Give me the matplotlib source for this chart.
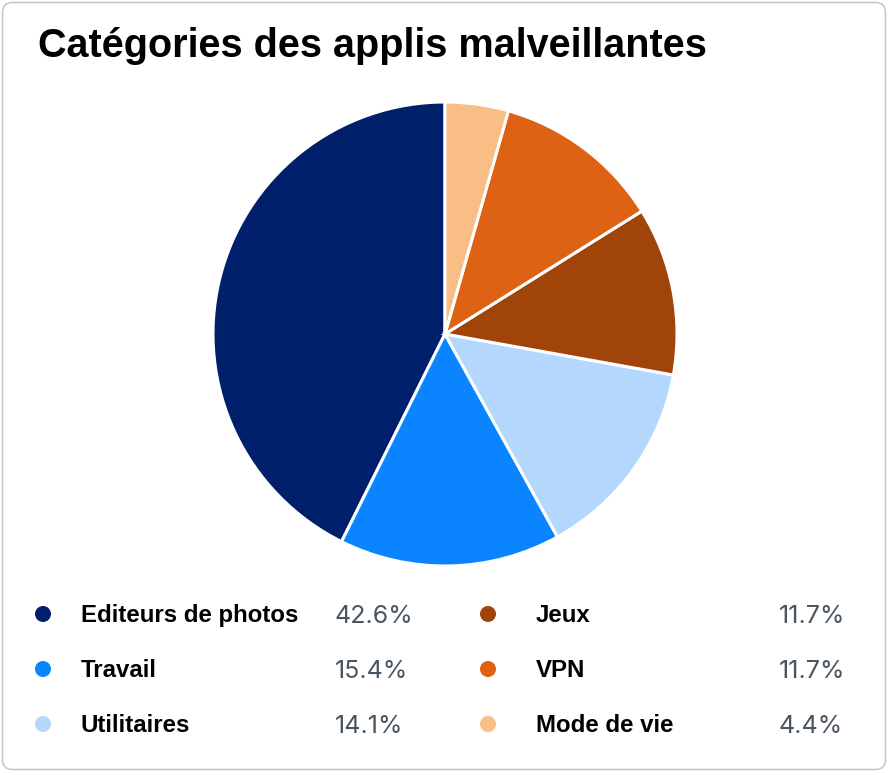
import matplotlib.pyplot as plt
from matplotlib.patches import FancyBboxPatch, Circle

# Datos del grafico
categorias = ["Editeurs de photos", "Travail", "Utilitaires", "Jeux", "VPN", "Mode de vie"]
porcentajes = [42.6, 15.4, 14.1, 11.7, 11.7, 4.4]
colores = ["#00206b", "#0a84ff", "#b3d7fd", "#a0440a", "#de6214", "#f8be86"]
titulo = "Catégories des applis malveillantes"

W, H = 890, 775
fig = plt.figure(figsize=(W / 100, H / 100), dpi=100)

# Capa en pixeles para el marco, el titulo y la leyenda
bg = fig.add_axes([0, 0, 1, 1])
bg.set_xlim(0, W)
bg.set_ylim(H, 0)
bg.axis("off")
bg.add_patch(FancyBboxPatch((2.5, 2.5), 883, 767, boxstyle="round,pad=0,rounding_size=10",
                            facecolor="white", edgecolor="#c8c8c8", linewidth=1.2))

bg.text(38, 57, titulo, fontsize=28.5, fontweight="bold", family="Liberation Sans",
        color="black", va="baseline", ha="left")

# Torta
cx, cy, r = 445, 334, 232
ax = fig.add_axes([(cx - r) / W, (H - cy - r) / H, 2 * r / W, 2 * r / H])
ax.pie(porcentajes, colors=colores, startangle=90, counterclock=True, radius=1,
       wedgeprops={"linewidth": 2.2, "edgecolor": "white"})
ax.set_xlim(-1, 1)
ax.set_ylim(-1, 1)
ax.set_aspect("equal")
ax.axis("off")

# Leyenda en dos columnas
col_dot = [43, 488]
col_lab = [81, 536]
col_pct = [335, 779]
fila_y = [614, 669, 724]
for i, (cat, pct, col) in enumerate(zip(categorias, porcentajes, colores)):
    c, f = i // 3, i % 3
    y = fila_y[f]
    bg.add_patch(Circle((col_dot[c], y), 8, facecolor=col, edgecolor="none"))
    bg.text(col_lab[c], y + 8, cat, fontsize=17.3, fontweight="bold", family="Liberation Sans",
            color="black", va="baseline", ha="left")
    bg.text(col_pct[c], y + 9, f"{pct}%", fontsize=18, family="Inter",
            color="#4a5562", va="baseline", ha="left")

fig.savefig("out.png", dpi=100)
